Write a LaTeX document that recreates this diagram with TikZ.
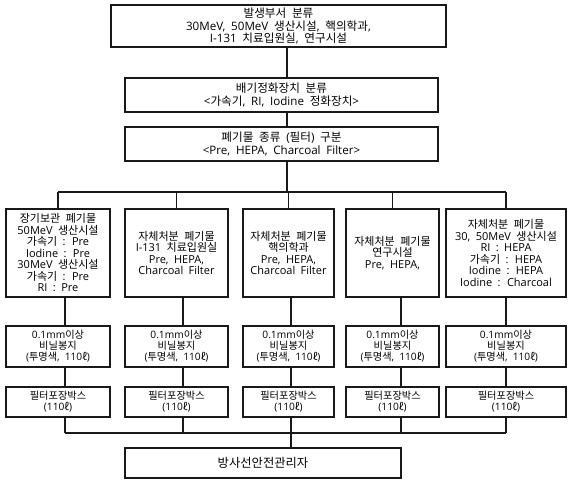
\documentclass[tikz,border=0pt]{standalone}
\usepackage{fontspec}
\setmainfont{Open Sans}[WordSpace={1.9}]
\newfontfamily\krfont{Noto Sans CJK KR}
\XeTeXinterchartokenstate=1
\newXeTeXintercharclass\KRclass
\count255="AC00
\loop
  \XeTeXcharclass\count255=\KRclass
  \ifnum\count255<"D7A3 \advance\count255 by 1
\repeat
\XeTeXcharclass"2113=\KRclass
\XeTeXinterchartoks 0 \KRclass = {\begingroup\krfont}
\XeTeXinterchartoks 4095 \KRclass = {\begingroup\krfont}
\XeTeXinterchartoks \KRclass 0 = {\endgroup}
\XeTeXinterchartoks \KRclass 4095 = {\endgroup}
\begin{document}
\begin{tikzpicture}[x=1pt,y=-1pt,
  box/.style={draw=black!90, line width=1.3pt, inner sep=0pt, align=center, text=black},
  topfont/.style={font=\fontsize{11.6}{12.4}\selectfont},
  tierfont/.style={font=\fontsize{11}{11.5}\selectfont},
  bagfont/.style={font=\fontsize{10.2}{11}\selectfont},
  conn/.style={draw=black!90, line width=1.3pt}]
\useasboundingbox (0,0) rectangle (575,488);

\node[box,topfont,minimum width=335pt,minimum height=42pt] (top) at (278.5,26)
  {발생부서 분류\\30MeV, 50MeV 생산시설, 핵의학과,\\I-131 치료입원실, 연구시설};
\node[box,topfont,minimum width=313pt,minimum height=34pt] (dev) at (281.5,95)
  {배기정화장치 분류\\<가속기, RI, Iodine 정화장치>};
\node[box,topfont,minimum width=313pt,minimum height=34pt] (cls) at (281.5,144)
  {폐기물 종류 (필터) 구분\\<Pre, HEPA, Charcoal Filter>};

\node[box,tierfont,minimum width=104pt,minimum height=88pt] (c1) at (58,253)
  {장기보관 폐기물\\50MeV 생산시설\\가속기 : Pre\\Iodine : Pre\\30MeV 생산시설\\가속기 : Pre\\RI : Pre};
\node[box,tierfont,minimum width=103pt,minimum height=88pt] (c2) at (176.5,253)
  {자체처분 폐기물\\I-131 치료입원실\\Pre, HEPA,\\Charcoal Filter};
\node[box,tierfont,minimum width=91pt,minimum height=88pt] (c3) at (288.5,253)
  {자체처분 폐기물\\핵의학과\\Pre, HEPA,\\Charcoal Filter};
\node[box,tierfont,minimum width=93pt,minimum height=88pt] (c4) at (392.5,253)
  {자체처분 폐기물\\연구시설\\Pre, HEPA,};
\node[box,tierfont,minimum width=120pt,minimum height=88pt] (c5) at (506,253)
  {자체처분 폐기물\\30, 50MeV 생산시설\\RI : HEPA\\가속기 : HEPA\\Iodine : HEPA\\Iodine : Charcoal};

\foreach \i/\x/\w in {1/58/104,2/176.5/103,3/288.5/91,4/392.5/93,5/506/120}{
  \node[box,bagfont,minimum width=\w pt,minimum height=41pt] (b\i) at (\x,346.5)
    {0.1mm이상\\비닐봉지\\(투명색, 110ℓ)};
  \node[box,bagfont,minimum width=\w pt,minimum height=30pt] (f\i) at (\x,402)
    {필터포장박스\\(110ℓ)};
}

\node[box,font=\fontsize{12.3}{14}\selectfont,minimum width=276pt,minimum height=30pt] (fin) at (263,463)
  {방사선안전관리자};

% top spine
\coordinate (spine) at (287,0);
\coordinate (bus1) at (0,192);
\coordinate (bus2) at (0,433);
\draw[conn] (top.south -| spine) -- (dev.north -| spine);
\draw[conn] (dev.south -| spine) -- (cls.north -| spine);
\draw[conn] (cls.south -| spine) -- (bus1 -| spine);
\draw[conn] (bus1 -| c1.north) -- (bus1 -| c5.north);
\foreach \i in {1,...,5}{
  \draw[conn] (bus1 -| c\i.north) -- (c\i.north);
}

% lower verticals
\coordinate (v1) at (65,0);
\coordinate (v2) at (183,0);
\coordinate (v3) at (291,0);
\coordinate (v4) at (401,0);
\coordinate (v5) at (506,0);
\foreach \i in {1,...,5}{
  \draw[conn] (c\i.south -| v\i) -- (b\i.north -| v\i);
  \draw[conn] (b\i.south -| v\i) -- (f\i.north -| v\i);
  \draw[conn] (f\i.south -| v\i) -- (bus2 -| v\i);
}
\draw[conn] (bus2 -| v1) -- (bus2 -| v5);
\draw[conn] (bus2 -| v3) -- (fin.north -| v3);
\end{tikzpicture}
\end{document}
